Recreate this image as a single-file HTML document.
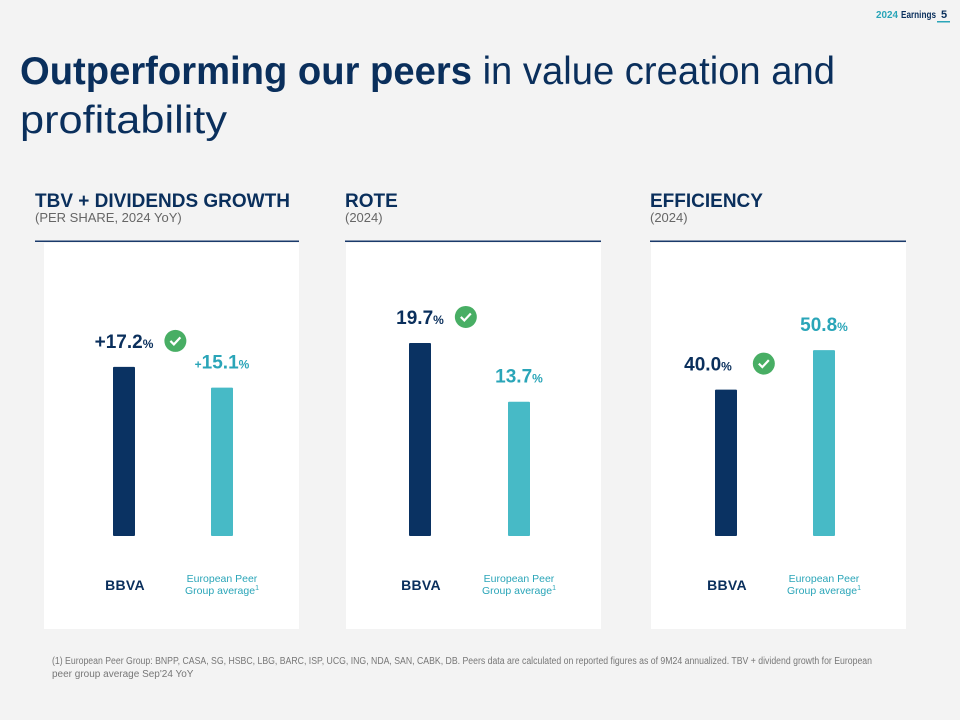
<!DOCTYPE html>
<html><head><meta charset="utf-8"><style>
html,body{margin:0;padding:0;background:#f3f3f3;}
svg{display:block;font-family:"Liberation Sans",sans-serif;}
</style></head><body>
<svg id="s" width="960" height="720" viewBox="0 0 960 720" xmlns="http://www.w3.org/2000/svg">
<rect width="960" height="720" fill="#f3f3f3"/>
<g>
<text x="876" y="18" font-size="10.5" font-weight="bold" fill="#2aa5b8" textLength="22" lengthAdjust="spacingAndGlyphs">2024</text>
<text x="901" y="18" font-size="10.5" font-weight="bold" fill="#0a2f5c" textLength="35" lengthAdjust="spacingAndGlyphs">Earnings</text>
<text x="941" y="18" font-size="11" font-weight="bold" fill="#0a2f5c">5</text>
<rect x="937" y="21" width="13" height="1.5" fill="#2aa5b8"/>
</g>
<text x="20" y="84" font-size="39" fill="#0a2f5c" textLength="815" lengthAdjust="spacingAndGlyphs"><tspan font-weight="bold">Outperforming our peers</tspan> in value creation and</text>
<text x="20" y="133" font-size="39" fill="#0a2f5c" textLength="207" lengthAdjust="spacingAndGlyphs">profitability</text>
<g id="charts"></g>
<text x="52" y="664" font-size="10" fill="#777" textLength="820" lengthAdjust="spacingAndGlyphs">(1) European Peer Group:  BNPP, CASA, SG, HSBC, LBG, BARC, ISP, UCG, ING, NDA, SAN, CABK, DB. Peers data are calculated on reported figures as of 9M24 annualized. TBV + dividend growth for European</text>
<text x="52" y="677" font-size="10" fill="#777">peer group average Sep'24 YoY</text>
</svg>
<script>
const titles = ["TBV + DIVIDENDS GROWTH", "ROTE", "EFFICIENCY"];
const subtitles = ["(PER SHARE, 2024 YoY)", "(2024)", "(2024)"];
const categories = ["BBVA", "European Peer Group average"];
const bbvaValues = [17.2, 19.7, 40.0];
const peerValues = [15.1, 13.7, 50.8];
const labelPrefix = ["+", "", ""];
const winnerIsBbva = [true, true, true];

const NS = "http://www.w3.org/2000/svg";
const root = document.getElementById("charts");
function mk(tag, attrs, parent, text) {
  const e = document.createElementNS(NS, tag);
  for (const k in attrs) e.setAttribute(k, attrs[k]);
  if (text !== undefined) e.textContent = text;
  parent.appendChild(e);
  return e;
}
const panelX = [44, 346, 651];
const ruleX = [35, 345, 650];
const barOff = [[69, 167], [63, 162], [64, 162]];
const pxPerUnit = [9.83, 9.8, 3.66];
const baseY = 536;
for (let i = 0; i < 3; i++) {
  const g = mk("g", {}, root);
  
  
  const px = panelX[i];
  const t = mk("text", {x: ruleX[i], y: 207, "font-size": 19, "font-weight": "bold", fill: "#0a2f5c"}, g, titles[i]);
  
  
  const st = mk("text", {x: ruleX[i], y: 222, "font-size": 13, fill: "#666"}, g, subtitles[i]);
  
  
  const rl = mk("rect", {x: ruleX[i], y: 240.5, width: px + 255 - ruleX[i], height: 1.5, fill: "#1a3a6b"}, g);
  
  
  const bg = mk("rect", {x: px, y: 243, width: 255, height: 386, fill: "#fff"}, g);
  
  
  const y = v => baseY - v * pxPerUnit[i];
  const bx = [px + barOff[i][0], px + barOff[i][1]];
  const vals = [bbvaValues[i], peerValues[i]];
  const colors = ["#0a3262", "#47bac6"];
  const labCol = ["#0a2f5c", "#2aa5b8"];
  for (let j = 0; j < 2; j++) {
    const top = y(vals[j]);
    const b = mk("rect", {x: bx[j], y: top, width: 22, height: baseY - top, fill: colors[j], rx: 1}, g);
    
    
    const cx = bx[j] + 11 - (i === 2 && j === 0 ? 18 : 0);
    const lab = mk("text", {x: cx, y: top - 19, "text-anchor": "middle", fill: labCol[j], "font-size": 19, "font-weight": "bold"}, g);
    
    
    const pre = labelPrefix[i];
    if (pre) mk("tspan", {"font-size": j === 0 ? 19 : 12}, lab, pre);
    mk("tspan", {}, lab, vals[j].toFixed(1));
    mk("tspan", {"font-size": 12}, lab, "%");
    if ((j === 0) === winnerIsBbva[i]) {
      const w = lab.getComputedTextLength ? lab.getComputedTextLength() : 50;
      const ccx = cx + w / 2 + 22 + (i === 2 ? 10 : 0), ccy = top - 26;
      const c = mk("circle", {cx: ccx, cy: ccy, r: 11, fill: "#48ae64"}, g);
      
      
      mk("path", {d: `M${ccx-5} ${ccy} l3.5 3.5 l6.5 -7`, stroke: "#fff", "stroke-width": 2.2, fill: "none"}, g);
    }
  }
  const logo = mk("text", {x: bx[0] + 12, y: 590, "text-anchor": "middle", "font-size": 14, "font-weight": "bold", fill: "#0a2f5c", "letter-spacing": "0.3"}, g, "BBVA");
  
  
  const p1 = mk("text", {x: bx[1] + 11, y: 582, "text-anchor": "middle", "font-size": 10.5, fill: "#2aa5b8"}, g, "European Peer");
  
  
  const p2 = mk("text", {x: bx[1] + 11, y: 594, "text-anchor": "middle", "font-size": 10.5, fill: "#2aa5b8"}, g);
  
  
  mk("tspan", {}, p2, "Group average");
  mk("tspan", {"font-size": 7, dy: -4}, p2, "1");
}
</script>
</body></html>
